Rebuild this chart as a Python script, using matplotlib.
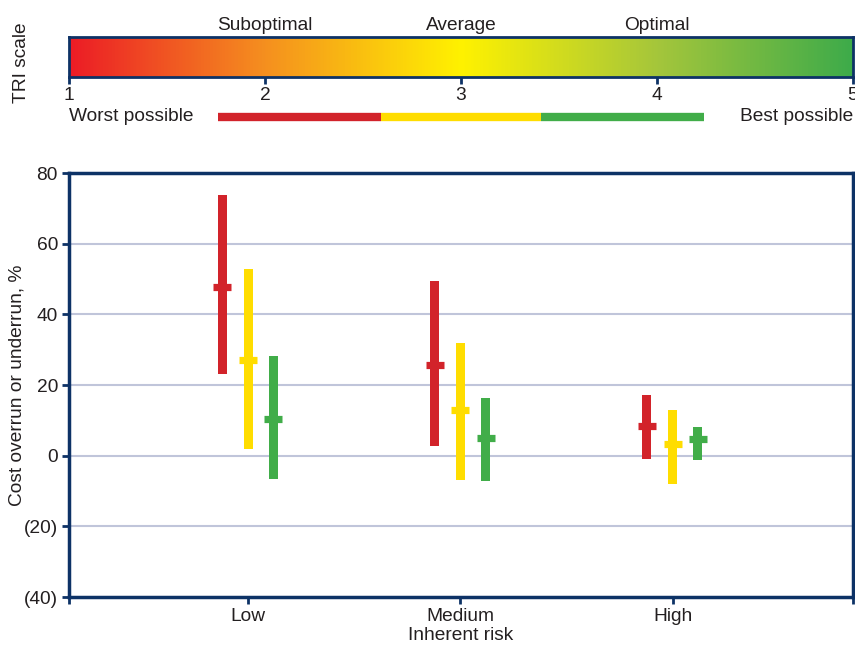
import matplotlib
matplotlib.use("Agg")
import matplotlib.pyplot as plt
import numpy as np
from matplotlib.colors import LinearSegmentedColormap

plt.rcParams['font.family'] = ['Liberation Sans', 'DejaVu Sans']

# Data
categories = ["Low", "Medium", "High"]
groups = ["Worst possible", "Average", "Best possible"]
range_top = {
    "Worst possible": [73.8, 49.4, 17.2],
    "Average": [52.8, 31.9, 12.9],
    "Best possible": [28.2, 16.3, 8.1],
}
range_bottom = {
    "Worst possible": [23.2, 2.8, -0.9],
    "Average": [2.0, -6.8, -7.9],
    "Best possible": [-6.5, -7.1, -1.2],
}
median = {
    "Worst possible": [47.7, 25.6, 8.3],
    "Average": [27.0, 12.8, 3.2],
    "Best possible": [10.3, 4.9, 4.6],
}
y_ticks = [80, 60, 40, 20, 0, -20, -40]
y_tick_labels = ["80", "60", "40", "20", "0", "(20)", "(40)"]
tri_ticks = [1, 2, 3, 4, 5]
tri_zone_labels = ["Suboptimal", "Average", "Optimal"]
tri_zone_pos = [2, 3, 4]
legend_edges = [1.76, 2.59, 3.41, 4.24]

NAVY = "#0d3266"
GRID = "#c0c5da"
TEXT = "#231f20"
FS = 13.8
series_colors = {"Worst possible": "#d2232a", "Average": "#ffdd00", "Best possible": "#41ad49"}
offsets = {"Worst possible": -0.122, "Average": 0.0, "Best possible": 0.118}

fig = plt.figure(figsize=(8.55, 6.45), dpi=100)

# ---- TRI scale colour bar ----
cax = fig.add_axes([69 / 855, 1 - 77 / 645, (853 - 69) / 855, 40 / 645])
cmap = LinearSegmentedColormap.from_list(
    "tri", [(0.0, "#ec1c26"), (0.25, "#f5901f"), (0.5, "#fff200"), (0.75, "#a5c63b"), (1.0, "#3dab4a")])
grad = np.linspace(0, 1, 512).reshape(1, -1)
cax.imshow(grad, aspect="auto", cmap=cmap, extent=[1, 5, 0, 1])
cax.set_xlim(1, 5)
cax.set_ylim(0, 1)
cax.set_yticks([])
cax.set_xticks(tri_ticks)
cax.set_xticklabels([str(t) for t in tri_ticks], fontsize=FS, color=TEXT)
cax.tick_params(axis="x", direction="out", length=5, width=2, color=NAVY, pad=2)
for s in cax.spines.values():
    s.set_color(NAVY)
    s.set_linewidth(2)
for x, lab in zip(tri_zone_pos, tri_zone_labels):
    cax.text(x, 1.08, lab, ha="center", va="bottom", fontsize=FS, color=TEXT,
             transform=cax.get_xaxis_transform())
fig.text(21 / 855, 1 - 63 / 645, "TRI scale", rotation=90, ha="center", va="center",
         fontsize=FS, color=TEXT)

# Legend strip below the scale
for (g, x0, x1) in zip(groups, legend_edges[:-1], legend_edges[1:]):
    cax.plot([x0, x1], [-1.0, -1.0], color=series_colors[g], linewidth=6,
             solid_capstyle="butt", clip_on=False, transform=cax.get_xaxis_transform())
cax.text(1.0, -0.98, "Worst possible", ha="left", va="center", fontsize=FS, color=TEXT,
         transform=cax.get_xaxis_transform(), clip_on=False)
cax.text(5.0, -0.98, "Best possible", ha="right", va="center", fontsize=FS, color=TEXT,
         transform=cax.get_xaxis_transform(), clip_on=False)

# ---- Main chart ----
ax = fig.add_axes([69 / 855, 1 - 597 / 645, (853 - 69) / 855, (597 - 173) / 645])
xpos = np.arange(len(categories))
bar_w = 0.0425
for g in groups:
    xs = xpos + offsets[g]
    tops = np.array(range_top[g])
    bots = np.array(range_bottom[g])
    ax.bar(xs, tops - bots, bottom=bots, width=bar_w, color=series_colors[g], zorder=3)
    ax.plot(xs, median[g], linestyle="none", marker="_", markersize=12.3,
            markeredgewidth=5.2, color=series_colors[g], zorder=4)

ax.set_ylim(-40, 80)
ax.set_xlim(-0.845, 2.85)
ax.set_yticks(y_ticks)
ax.set_yticklabels(y_tick_labels, fontsize=FS, color=TEXT)
ax.set_xticks(xpos)
ax.set_xticklabels(categories, fontsize=FS, color=TEXT)
ax.set_xticks([-0.845, 2.85], minor=True)
ax.tick_params(axis="both", which="both", direction="out", length=5, width=2, color=NAVY)
ax.tick_params(axis="x", pad=3)
ax.tick_params(axis="y", pad=3)
for y in [60, 40, 20, 0, -20]:
    ax.axhline(y, color=GRID, linewidth=1.5, zorder=1)
for s in ax.spines.values():
    s.set_color(NAVY)
    s.set_linewidth(2.5)
ax.set_ylabel("Cost overrun or underrun, %", fontsize=FS, color=TEXT)
ax.yaxis.set_label_coords((26 - 69) / 784, 0.5)
ax.set_xlabel("Inherent risk", fontsize=FS, color=TEXT, labelpad=1)

fig.savefig("out.png", dpi=100)
